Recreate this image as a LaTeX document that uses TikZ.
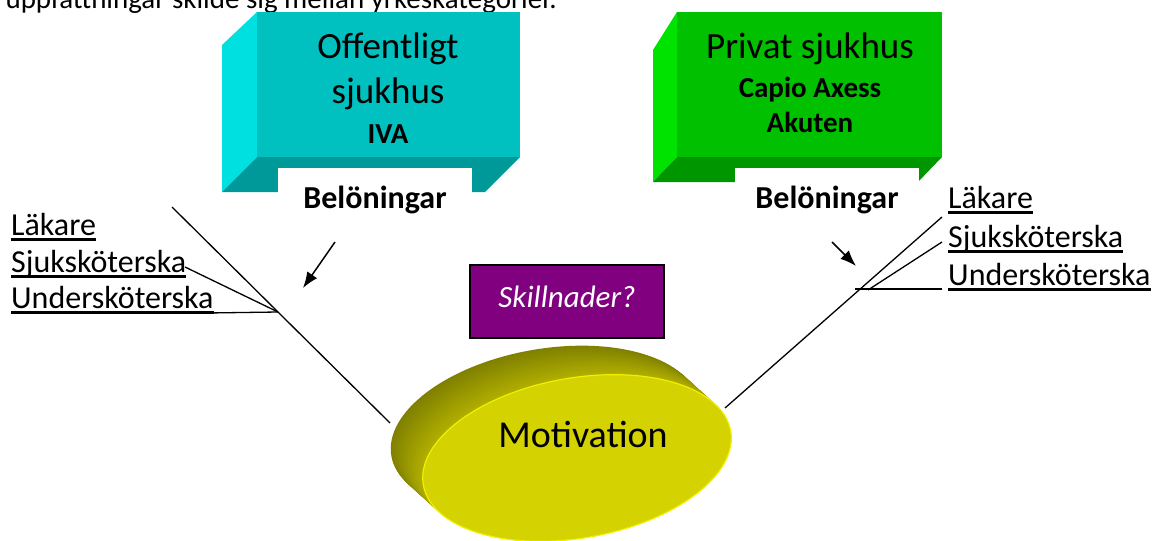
\documentclass[tikz,border=0pt]{standalone}
\usepackage{fontspec}
\setmainfont{Carlito}
\usetikzlibrary{arrows.meta}
\definecolor{tealfront}{RGB}{0,192,192}
\definecolor{tealleft}{RGB}{0,224,224}
\definecolor{tealbottom}{RGB}{0,153,153}
\definecolor{greenfront}{RGB}{0,192,0}
\definecolor{greenleft}{RGB}{0,226,0}
\definecolor{greenbottom}{RGB}{0,150,0}
\definecolor{discback}{RGB}{128,128,0}
\definecolor{discside}{RGB}{178,176,0}
\definecolor{discface}{RGB}{212,210,0}
\definecolor{discrim}{RGB}{240,240,0}
\definecolor{skillpurple}{RGB}{128,0,128}

\begin{document}
\begin{tikzpicture}[x=1pt,y=-1pt,
  txt/.style={inner sep=0pt,anchor=base},
  lbl/.style={inner sep=0pt,anchor=base west,font=\fontsize{32}{38}\selectfont},
  belbox/.style={anchor=north,fill=white,inner sep=0pt,minimum width=#1,text height=40pt,text depth=12pt,font=\fontsize{32}{38}\selectfont\bfseries},
  conn/.style={line width=1.3pt},
  arr/.style={line width=1.5pt,-{Latex[length=16pt,width=12pt]}},
  ulin/.style={line width=2.4pt}]
\useasboundingbox (0,0) rectangle (1157,541);
\clip (0,0) rectangle (1157,541);

\node[txt,anchor=base east,font=\fontsize{29}{35}\selectfont] (intro) at (557,8) {uppfattningar skilde sig mellan yrkeskategorier.};

% offentligt sjukhus
\fill[tealleft] (257,12) -- (222,45) -- (222,192) -- (257,157) -- cycle;
\fill[tealbottom] (257,157) -- (520,157) -- (485,192) -- (222,192) -- cycle;
\fill[tealfront] (257,12) rectangle (520,157);
\node[txt,font=\fontsize{37}{45}\selectfont] (off1) at (388,58) {Offentligt};
\node[txt,font=\fontsize{37}{45}\selectfont] (off2) at (388,103) {sjukhus};
\node[txt,font=\fontsize{29}{35}\selectfont\bfseries] (iva) at (388,143) {IVA};
\node[belbox=194pt] (belL) at (375,168) {Belöningar};

% privat sjukhus
\fill[greenleft] (677,12) -- (653,50) -- (653,182) -- (677,157) -- cycle;
\fill[greenbottom] (677,157) -- (942,157) -- (918,182) -- (653,182) -- cycle;
\fill[greenfront] (677,12) rectangle (942,157);
\node[txt,font=\fontsize{37}{45}\selectfont] (priv) at (810,58) {Privat sjukhus};
\node[txt,font=\fontsize{29}{35}\selectfont\bfseries] (capio) at (810,97) {Capio Axess};
\node[txt,font=\fontsize{29}{35}\selectfont\bfseries] (akut) at (810,132) {Akuten};
\node[belbox=184pt] (belR) at (827,168) {Belöningar};

% yrken
\node[lbl] (lakL) at (11,235) {Läkare};
\node[lbl] (sjL) at (11,272) {Sjuksköterska};
\node[lbl] (usL) at (11,308) {Undersköterska};
\node[lbl] (lakR) at (948,208) {Läkare};
\node[lbl] (sjR) at (948,247) {Sjuksköterska};
\node[lbl] (usR) at (948,285) {Undersköterska};
\foreach \n in {lakL,sjL,usL,lakR,sjR,usR}
  \draw[ulin] ([yshift=-4.5pt]\n.base west) -- ([yshift=-4.5pt]\n.base east);

\coordinate (ltop) at (172,207);
\coordinate (lfoot) at (390,423);
\coordinate (lknot) at (278,312);
\coordinate (sjLend) at (185,267);
\coordinate (usLend) at (207,313);
\coordinate (rtop) at (942,217);
\coordinate (rfoot) at (725,408);
\coordinate (sjRend) at (942,242);
\coordinate (sjRknot) at (868,290);
\coordinate (usRend) at (942,289);
\coordinate (usRknot) at (855,289);
\draw[conn] (ltop) -- (lfoot);
\draw[conn] (sjLend) -- (lknot);
\draw[conn] (usLend) -- (lknot);
\draw[conn] (rtop) -- (rfoot);
\draw[conn] (sjRend) -- (sjRknot);
\draw[conn] (usRend) -- (usRknot);

\coordinate (aL1) at (335,242);
\coordinate (aL2) at (303,288);
\coordinate (aR1) at (832,242);
\coordinate (aR2) at (856,266);
\draw[arr] (aL1) -- (aL2);
\draw[arr] (aR1) -- (aR2);

\node[fill=skillpurple,draw=black,line width=1.2pt,minimum width=194pt,minimum height=73pt,
  text height=22pt,text depth=10pt,inner sep=0pt,text=white,
  font=\fontsize{31}{37}\selectfont\itshape] (skill) at (567,301.5) {Skillnader?};

% motivation disc
\foreach \i in {0,...,30}{
  \pgfmathsetmacro\cx{545+32*\i/30}
  \pgfmathsetmacro\cy{429+29*\i/30}
  \pgfmathtruncatemacro\p{100*\i/30}
  \fill[discside!\p!discback,rotate around={10:(\cx,\cy)}] (\cx,\cy) ellipse [x radius=156,y radius=80];
}
\fill[discface,draw=discrim,line width=1.2pt,rotate around={10:(577,458)}] (577,458) ellipse [x radius=156,y radius=80];
\node[txt,font=\fontsize{38}{45}\selectfont] (motiv) at (583,447) {Motivation};
\end{tikzpicture}
\end{document}
